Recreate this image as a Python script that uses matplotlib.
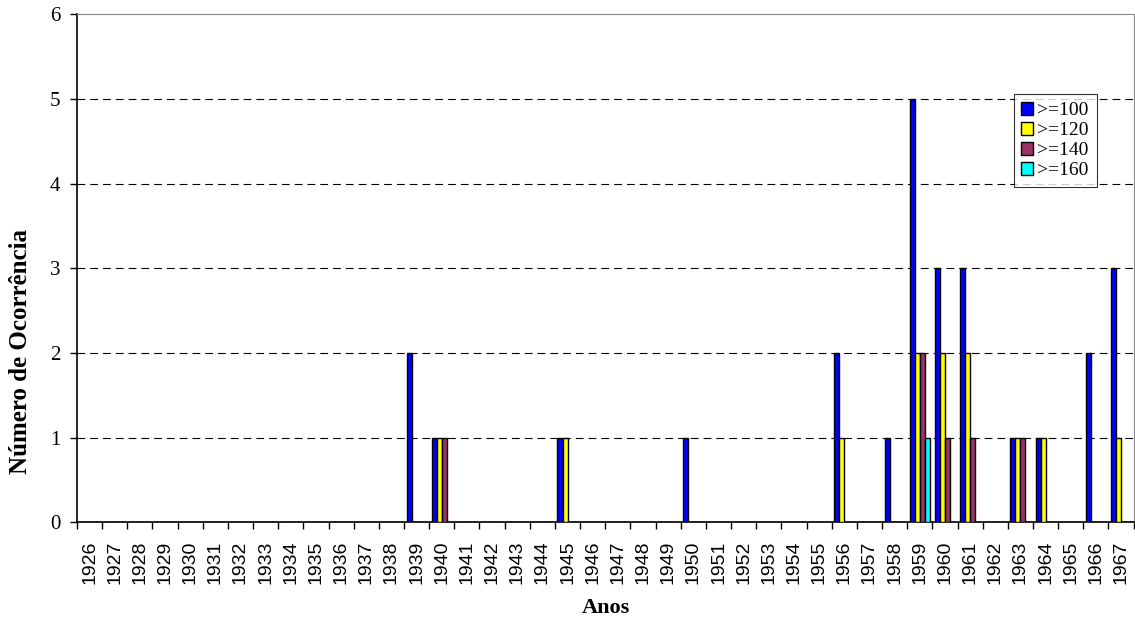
import numpy as np
import matplotlib.pyplot as plt

# Occurrences per year for each threshold
anos = list(range(1926, 1968))
serie_100 = {1939: 2, 1940: 1, 1945: 1, 1950: 1, 1956: 2, 1958: 1, 1959: 5,
             1960: 3, 1961: 3, 1963: 1, 1964: 1, 1966: 2, 1967: 3}
serie_120 = {1940: 1, 1945: 1, 1956: 1, 1959: 2, 1960: 2, 1961: 2, 1963: 1,
             1964: 1, 1967: 1}
serie_140 = {1940: 1, 1959: 2, 1960: 1, 1961: 1, 1963: 1}
serie_160 = {1959: 1}

series = [serie_100, serie_120, serie_140, serie_160]
rotulos = ['>=100', '>=120', '>=140', '>=160']
cores = ['#0000FF', '#FFFF00', '#993366', '#00FFFF']

fig = plt.figure(figsize=(11.35, 6.21), dpi=100)
ax = fig.add_axes([0.0678, 0.159, 0.931, 0.818])

x = np.arange(len(anos))
larg = 0.2
for i, (s, rot, cor) in enumerate(zip(series, rotulos, cores)):
    vals = [s.get(a, 0) for a in anos]
    ax.bar(x - 0.4 + i * larg, vals, width=larg, align='edge', color=cor,
           edgecolor='black', linewidth=1.0, label=rot, zorder=3)

ax.set_xlim(-0.5, len(anos) - 0.5)
ax.set_ylim(0, 6)
ax.set_yticks(range(7))
ax.set_yticklabels([str(v) for v in range(7)], family='Liberation Serif', fontsize=15)
for v in range(1, 6):
    ax.axhline(v, color='black', linestyle=(0, (7, 4.5)), linewidth=0.8, zorder=1)

ax.set_xticks(x)
ax.set_xticklabels([str(a) for a in anos], rotation=90, family='Liberation Sans', fontsize=14)
ax.set_xticks(np.arange(len(anos) + 1) - 0.5, minor=True)
ax.tick_params(axis='x', which='major', length=0, pad=13)
ax.tick_params(axis='x', which='minor', length=5, direction='out', width=1)
ax.tick_params(axis='y', length=5, direction='out', width=1, pad=7)

ax.spines['top'].set_color('#888888')
ax.spines['right'].set_color('#888888')
ax.spines['left'].set_linewidth(1.2)
ax.spines['bottom'].set_linewidth(1.2)

# axis titles
fig.text(21 / 1135, 1 - 352 / 621, 'Número de Ocorrência', rotation=90, ha='center', va='center',
         family='Liberation Serif', fontsize=18, fontweight='bold')
fig.text(606 / 1135, 1 - 608 / 621, 'Anos', ha='center', va='center',
         family='Liberation Serif', fontsize=16, fontweight='bold')

leg = ax.legend(loc='upper right', bbox_to_anchor=(0.965, 0.8425), frameon=True, fancybox=False,
                prop={'family': 'Liberation Serif', 'size': 14}, handlelength=0.62,
                handleheight=0.62, handletextpad=0.2, labelspacing=0.15, borderpad=0.4,
                borderaxespad=0)
leg.get_frame().set_edgecolor('black')
leg.get_frame().set_linewidth(0.8)

fig.savefig('out.png', dpi=100)
